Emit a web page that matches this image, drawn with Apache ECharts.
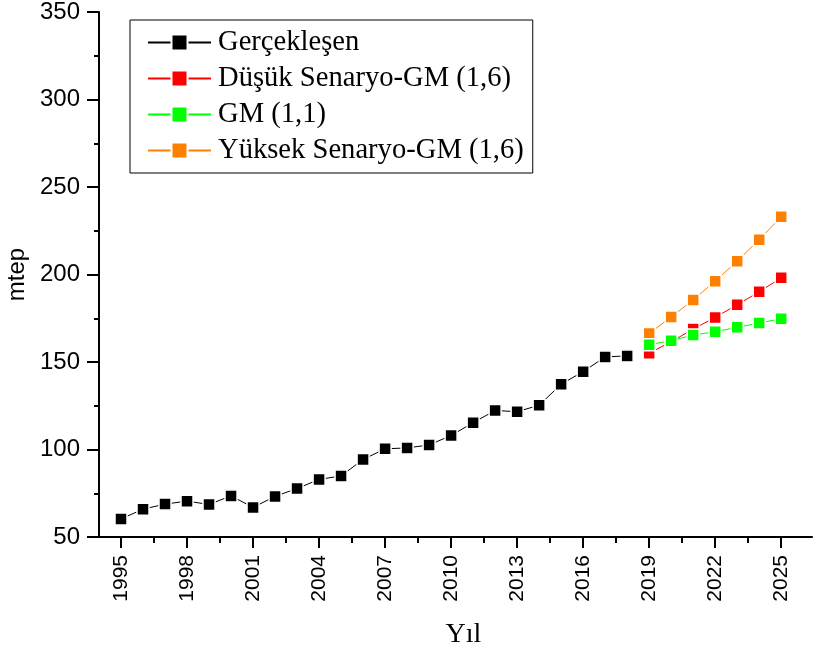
<!DOCTYPE html>
<html>
<head>
<meta charset="utf-8">
<script src="https://cdn.jsdelivr.net/npm/echarts@6/dist/echarts.min.js"></script>
<style>
	html, body { margin: 0; padding: 0; background: #fff; }
	#chart { width: 814px; height: 652px; }
</style>
</head>
<body>
<div id="chart"></div>
<script>
// Gerçekleşen (1995-2018) ve tahminler (2019-2025), mtep
const actualYears = [1995, 1996, 1997, 1998, 1999, 2000, 2001, 2002, 2003, 2004, 2005, 2006,
	2007, 2008, 2009, 2010, 2011, 2012, 2013, 2014, 2015, 2016, 2017, 2018];
const actualValues = [60.3, 65.9, 68.8, 70.5, 68.6, 73.5, 66.9, 73.2, 77.7, 82.9, 84.9, 94.3,
	100.4, 100.9, 102.6, 108.0, 115.3, 122.3, 121.6, 125.3, 137.3, 144.5, 152.9, 153.5];

const forecastYears = [2019, 2020, 2021, 2022, 2023, 2024, 2025];
const lowValues = [155.0, 161.6, 168.8, 175.5, 182.7, 190.1, 198.1];
const gmValues = [159.9, 162.2, 165.4, 167.3, 169.8, 172.3, 174.7];
const highValues = [166.3, 175.7, 185.5, 196.2, 207.6, 219.9, 233.0];

// tick konumları
const majorYears = [1995, 1998, 2001, 2004, 2007, 2010, 2013, 2016, 2019, 2022, 2025];
const minorYears = [1996.5, 1999.5, 2002.5, 2005.5, 2008.5, 2011.5, 2014.5, 2017.5, 2020.5, 2023.5];
const minorY = [75, 125, 175, 225, 275, 325];

const pairs = (xs, ys) => xs.map((x, i) => [x, ys[i]]);

const chart = echarts.init(document.getElementById('chart'));

const makeSeries = (name, xs, ys, color) => ({
	name: name,
	type: 'line',
	data: pairs(xs, ys),
	symbol: 'rect',
	symbolSize: 12,
	itemStyle: { color: color, borderColor: '#fff', borderWidth: 1.5 },
	lineStyle: { color: color, width: 1 },
	emphasis: { disabled: true },
	animation: false,
});

const axisFont = { fontFamily: 'Liberation Sans', color: '#000' };
const tickStyle = { width: 2, color: '#000' };

const option = {
	backgroundColor: '#fff',
	grid: { left: 99, top: 12, right: 2, bottom: 115, outerBoundsMode: 'none', containLabel: false },
	legend: {
		left: 130,
		top: 20,
		orient: 'vertical',
		data: ['Gerçekleşen', 'Düşük Senaryo-GM (1,6)', 'GM (1,1)', 'Yüksek Senaryo-GM (1,6)'],
		itemWidth: 63,
		itemHeight: 20,
		itemGap: 7,
		padding: [8, 9, 8, 17],
		borderColor: '#000',
		borderWidth: 1,
		textStyle: { fontFamily: 'Liberation Serif', fontSize: 28.6, color: '#000', padding: [0, 0, 0, 2] },
	},
	xAxis: [
		{
			type: 'value',
			min: 1994,
			max: 2026.4,
			name: 'Yıl',
			nameLocation: 'middle',
			nameGap: 84,
			nameTextStyle: { fontFamily: 'Liberation Serif', fontSize: 28, color: '#000', padding: [0, 0, 0, 16] },
			axisLine: { lineStyle: { color: '#000', width: 2 } },
			axisTick: { length: 11, lineStyle: tickStyle, customValues: majorYears },
			axisLabel: {
				...axisFont, fontSize: 21, rotate: 90, margin: 18,
				customValues: majorYears,
				formatter: (v) => String(v),
			},
			splitLine: { show: false },
		},
		{
			type: 'value',
			min: 1994,
			max: 2026.4,
			position: 'bottom',
			axisLine: { show: false },
			axisTick: { length: 6, lineStyle: tickStyle, customValues: minorYears },
			axisLabel: { show: false },
			splitLine: { show: false },
		},
	],
	yAxis: [
		{
			type: 'value',
			min: 50,
			max: 350,
			interval: 50,
			name: 'mtep',
			nameLocation: 'middle',
			nameRotate: 90,
			nameGap: 63,
			nameTextStyle: { ...axisFont, fontSize: 24 },
			axisLine: { show: true, lineStyle: { color: '#000', width: 2 } },
			axisTick: { show: true, length: 12, lineStyle: tickStyle },
			axisLabel: { ...axisFont, fontSize: 24, margin: 19 },
			splitLine: { show: false },
		},
		{
			type: 'value',
			min: 50,
			max: 350,
			position: 'left',
			axisLine: { show: false },
			axisTick: { show: true, length: 5, lineStyle: tickStyle, customValues: minorY },
			axisLabel: { show: false },
			splitLine: { show: false },
		},
	],
	series: [
		makeSeries('Gerçekleşen', actualYears, actualValues, '#000000'),
		makeSeries('Düşük Senaryo-GM (1,6)', forecastYears, lowValues, '#ff0000'),
		makeSeries('Yüksek Senaryo-GM (1,6)', forecastYears, highValues, '#ff8000'),
		makeSeries('GM (1,1)', forecastYears, gmValues, '#00ff00'),
	],
};

chart.setOption(option);
</script>
</body>
</html>
